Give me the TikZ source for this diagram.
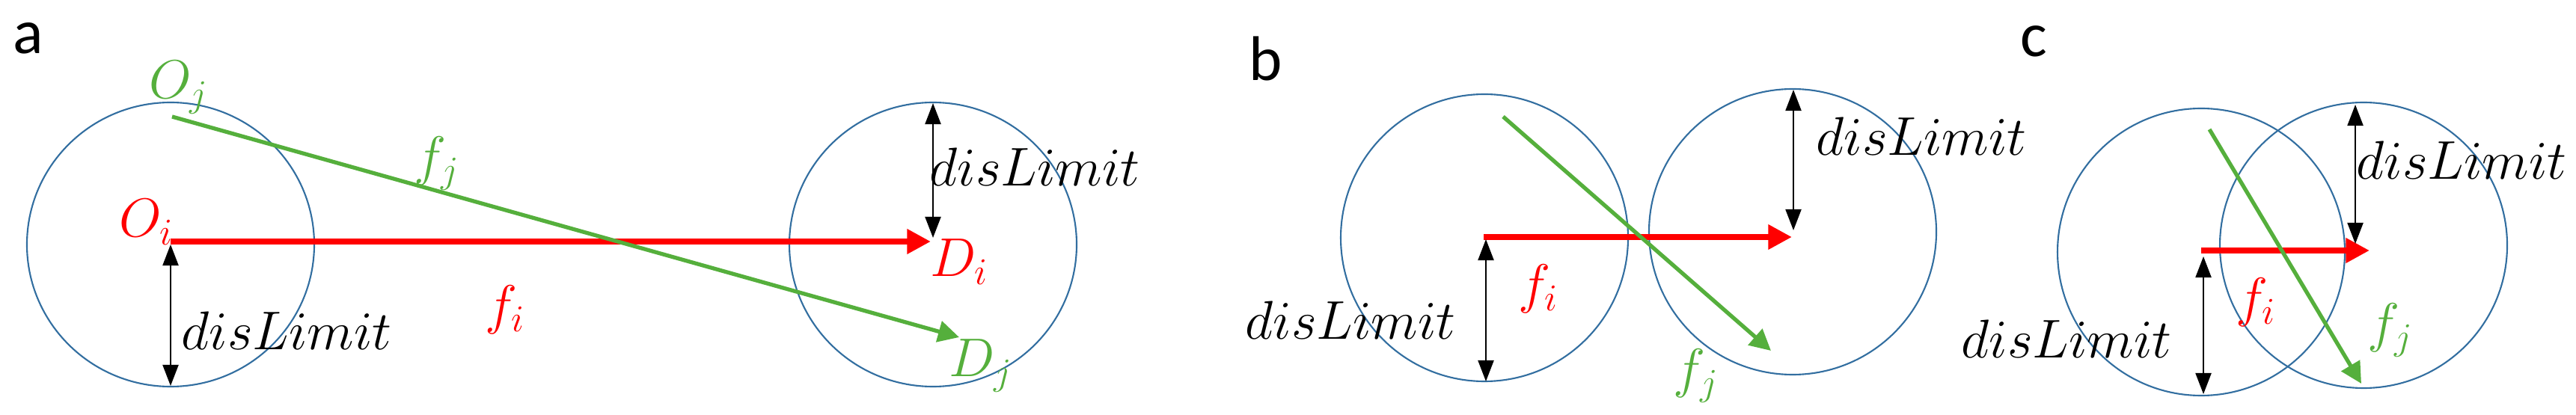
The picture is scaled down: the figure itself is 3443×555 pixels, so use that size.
\documentclass[tikz,border=0pt]{standalone}
\usepackage{fontspec}
\newfontfamily\lab{Carlito}
\usetikzlibrary{arrows.meta}
\definecolor{cblue}{RGB}{50,110,160}
\definecolor{cgreen}{RGB}{85,175,60}
\begin{document}
\begin{tikzpicture}[x=0.01cm,y=-0.01cm,
  circ/.style={draw=cblue,line width=0.6pt},
  redarr/.style={draw=red,line width=2.3pt,-{Triangle[length=9pt,width=9pt]}},
  grnarr/.style={draw=cgreen,line width=1.5pt,-{Triangle[length=8pt,width=8pt]}},
  dim/.style={draw=black,line width=0.6pt,{Triangle[length=8pt,width=6pt]}-{Triangle[length=8pt,width=6pt]}},
  mt/.style={inner sep=0pt,font=\fontsize{20}{22}\selectfont},
  pl/.style={inner sep=0pt,font=\lab\fontsize{24}{26}\selectfont}]
\useasboundingbox (0,0) rectangle (3443,555);
% panel a
\node[pl] (la) at (38,51) {a};
\draw[circ] (228,327) circle[x radius=192,y radius=190];
\draw[circ] (1247,327) circle[x radius=192,y radius=190];
\coordinate (aOi) at (228,323); \coordinate (aDi) at (1244,323);
\coordinate (aOj) at (230,156); \coordinate (aDj) at (1282,451);
\draw[redarr] (aOi) -- (aDi);
\draw[grnarr] (aOj) -- (aDj);
\coordinate (a1) at (228,327); \coordinate (a2) at (228,516);
\coordinate (a3) at (1247,138); \coordinate (a4) at (1247,318);
\draw[dim] (a1) -- (a2);
\draw[dim] (a3) -- (a4);
\node[mt,text=cgreen] (tOj) at (239,117) {$O_j$};
\node[mt,text=red] (tOi) at (196,297) {$O_i$};
\node[mt,text=cgreen] (tfj) at (584,219) {$f_j$};
\node[mt,text=red] (tDi) at (1282,350) {$D_i$};
\node[mt,text=red] (tfi) at (675,414) {$f_i$};
\node[mt,text=cgreen] (tDj) at (1311,489) {$D_j$};
\node[mt] (tda1) at (383,442) {$disLimit$};
\node[mt] (tda2) at (1383,223) {$disLimit$};
% panel b
\node[pl] (lb) at (1692,78) {b};
\draw[circ] (1984,318) circle[x radius=192,y radius=192];
\draw[circ] (2396,310) circle[x radius=192,y radius=191];
\coordinate (bO) at (1983,317); \coordinate (bD) at (2395,317);
\coordinate (bg1) at (2009,156); \coordinate (bg2) at (2367,469);
\draw[redarr] (bO) -- (bD);
\draw[grnarr] (bg1) -- (bg2);
\coordinate (b1) at (1986,320); \coordinate (b2) at (1986,510);
\coordinate (b3) at (2397,120); \coordinate (b4) at (2397,308);
\draw[dim] (b1) -- (b2);
\draw[dim] (b3) -- (b4);
\node[mt,text=red] (tbfi) at (2056,386) {$f_i$};
\node[mt,text=cgreen] (tbfj) at (2267,503) {$f_j$};
\node[mt] (tdb1) at (1805,428) {$disLimit$};
\node[mt] (tdb2) at (2568,182) {$disLimit$};
% panel c
\node[pl] (lc) at (2718,55) {c};
\draw[circ] (2942,337) circle[x radius=192,y radius=192];
\draw[circ] (3159,328) circle[x radius=192,y radius=191];
\coordinate (cO) at (2942,335); \coordinate (cD) at (3167,335);
\coordinate (cg1) at (2953,173); \coordinate (cg2) at (3156,513);
\draw[redarr] (cO) -- (cD);
\draw[grnarr] (cg1) -- (cg2);
\coordinate (c1) at (2945,343); \coordinate (c2) at (2945,527);
\coordinate (c3) at (3148,140); \coordinate (c4) at (3148,326);
\draw[dim] (c1) -- (c2);
\draw[dim] (c3) -- (c4);
\node[mt,text=red] (tcfi) at (3015,404) {$f_i$};
\node[mt,text=cgreen] (tcfj) at (3195,442) {$f_j$};
\node[mt] (tdc1) at (2762,453) {$disLimit$};
\node[mt] (tdc2) at (3290,214) {$disLimit$};
\end{tikzpicture}
\end{document}
